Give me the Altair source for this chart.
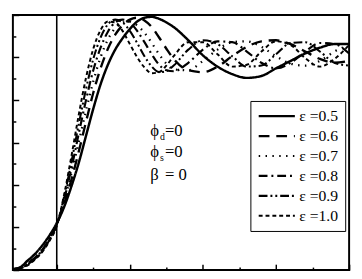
import altair as alt
import pandas as pd

# time grid (axis units; no labels shown in the original)
t = [-0.6, -0.5, -0.4, -0.3, -0.2, -0.1, 0.0, 0.1, 0.2, 0.3, 0.4, 0.5, 0.6, 0.7,
     0.8, 0.9, 1.0, 1.1, 1.2, 1.3, 1.4, 1.5, 1.6, 1.8, 2.0, 2.2, 2.4, 2.6, 2.8,
     3.0, 3.2, 3.4, 3.6, 3.8, 4.0]

eps_labels = ["ε =0.5", "ε =0.6", "ε =0.7", "ε =0.8", "ε =0.9", "ε =1.0"]

y_05 = [0.004, 0.013, 0.044, 0.075, 0.115, 0.163, 0.221, 0.296, 0.393, 0.503, 0.631, 0.759,
        0.874, 0.966, 1.037, 1.090, 1.134, 1.169, 1.187, 1.191, 1.182, 1.165, 1.143, 1.081,
        1.010, 0.957, 0.922, 0.904, 0.913, 0.949, 0.984, 1.019, 1.046, 1.063, 1.063]
y_06 = [0.004, 0.009, 0.031, 0.057, 0.093, 0.146, 0.216, 0.309, 0.424, 0.556, 0.697, 0.834,
        0.949, 1.041, 1.107, 1.151, 1.178, 1.187, 1.174, 1.143, 1.094, 1.041, 0.993, 0.940,
        0.931, 0.957, 1.006, 1.050, 1.076, 1.081, 1.063, 1.028, 0.993, 0.975, 0.984]
y_07 = [0.004, 0.013, 0.031, 0.062, 0.097, 0.150, 0.216, 0.322, 0.454, 0.600, 0.750, 0.887,
        1.001, 1.085, 1.138, 1.165, 1.169, 1.151, 1.116, 1.068, 1.015, 0.971, 0.944, 0.940,
        0.984, 1.037, 1.072, 1.076, 1.050, 1.006, 0.971, 0.962, 0.984, 1.028, 1.059]
y_08 = [0.004, 0.009, 0.026, 0.053, 0.093, 0.146, 0.212, 0.331, 0.476, 0.640, 0.799, 0.940,
        1.046, 1.121, 1.165, 1.178, 1.165, 1.125, 1.072, 1.015, 0.966, 0.940, 0.935, 0.975,
        1.037, 1.076, 1.072, 1.028, 0.975, 0.949, 0.975, 1.028, 1.068, 1.063, 1.019]
y_09 = [0.004, 0.009, 0.026, 0.053, 0.088, 0.141, 0.212, 0.344, 0.507, 0.684, 0.851, 0.993,
        1.094, 1.156, 1.178, 1.165, 1.125, 1.068, 1.006, 0.957, 0.931, 0.935, 0.962, 1.037,
        1.081, 1.063, 1.006, 0.957, 0.962, 1.015, 1.068, 1.072, 1.028, 0.975, 0.962]
y_10 = [0.004, 0.009, 0.022, 0.049, 0.084, 0.137, 0.207, 0.353, 0.534, 0.728, 0.904, 1.041,
        1.129, 1.169, 1.165, 1.125, 1.063, 1.001, 0.953, 0.926, 0.931, 0.962, 1.006, 1.072,
        1.072, 1.015, 0.957, 0.966, 1.028, 1.076, 1.059, 0.997, 0.957, 0.993, 1.059]

series = [y_05, y_06, y_07, y_08, y_09, y_10]

x_major = [0, 1, 2, 3, 4]
x_minor = [-0.5, 0.5, 1.5, 2.5, 3.5]
y_major = [0.0, 0.2, 0.4, 0.6, 0.8, 1.0, 1.2]
y_minor = [0.1, 0.3, 0.5, 0.7, 0.9, 1.1]

marker_t = [0.0]

ann_main = ["ϕ", "ϕ", "β"]
ann_sub = ["d", "s", ""]
ann_rest = ["=0", "=0", "= 0"]
ann_x = [1.28, 1.28, 1.28]
ann_y = [0.655, 0.555, 0.445]

rows = []
for lab, ys in zip(eps_labels, series):
    for tt, yy in zip(t, ys):
        rows.append({"t": tt, "y": yy, "eps": lab})
df = pd.DataFrame(rows)

dashes = [[1, 0], [11, 7], [1.5, 5.5], [9, 4, 2, 4], [9, 3, 2, 3, 2, 3], [4, 3]]
widths = [2.5, 2, 1.6, 2, 2, 1.6]

xscale = alt.Scale(domain=[-0.6, 4.0], nice=False, zero=False)
yscale = alt.Scale(domain=[0, 1.2], nice=False)


def inner_axis(values, size, orient):
    return alt.Axis(values=values, tickSize=size, offset=-size, labels=False,
                    domain=False, grid=False, title=None, ticks=True,
                    tickColor="black", tickWidth=1.5, orient=orient)


lines = alt.Chart(df).mark_line(interpolate="monotone", color="black").encode(
    x=alt.X("t:Q", scale=xscale, axis=inner_axis(x_major, 6, "bottom")),
    y=alt.Y("y:Q", scale=yscale, axis=inner_axis(y_major, 6, "left")),
    strokeDash=alt.StrokeDash(
        "eps:N",
        scale=alt.Scale(domain=eps_labels, range=dashes),
        legend=alt.Legend(
            title=None, orient="none", legendX=243, legendY=88,
            symbolType="stroke", symbolSize=1370, symbolStrokeWidth=2.2,
            symbolStrokeColor="black", labelFont="Liberation Serif",
            labelFontSize=16, labelColor="black", fillColor="white",
            strokeColor="black", padding=7, rowPadding=3.4,
            labelOffset=3, clipHeight=17,
        ),
    ),
    strokeWidth=alt.StrokeWidth("eps:N", scale=alt.Scale(domain=eps_labels, range=widths),
                                legend=None),
)

minor_df = pd.DataFrame({"t": x_minor + [x_minor[0]], "y": y_minor})
minor = alt.Chart(minor_df).mark_point(opacity=0).encode(
    x=alt.X("t:Q", scale=xscale, axis=inner_axis(x_minor, 3, "bottom")),
    y=alt.Y("y:Q", scale=yscale, axis=inner_axis(y_minor, 3, "left")),
)

rule = alt.Chart(pd.DataFrame({"t": marker_t})).mark_rule(color="black", strokeWidth=1.6).encode(
    x=alt.X("t:Q", scale=xscale, axis=None)
)

ann_df = pd.DataFrame({"main": ann_main, "sub": ann_sub, "rest": ann_rest,
                       "x": ann_x, "y": ann_y})
base_ann = alt.Chart(ann_df).encode(
    x=alt.X("x:Q", scale=xscale, axis=None),
    y=alt.Y("y:Q", scale=yscale, axis=None),
)
txt_main = base_ann.mark_text(align="left", baseline="middle", font="Liberation Serif",
                              fontSize=17, color="black").encode(text="main:N")
txt_sub = base_ann.mark_text(align="left", baseline="middle", font="Liberation Serif",
                             fontSize=10, color="black", dx=10, dy=6).encode(text="sub:N")
txt_rest = base_ann.mark_text(align="left", baseline="middle", font="Liberation Serif",
                              fontSize=17, color="black", dx=15).encode(text="rest:N")

chart = alt.layer(lines, minor, rule, txt_main, txt_sub, txt_rest).resolve_axis(
    x="independent", y="independent"
).properties(
    width=344, height=261,
    padding=0,
    background="white",
).configure_view(stroke="black", strokeWidth=2)

chart.save("out.html", embed_options={"renderer": "svg", "actions": False})
